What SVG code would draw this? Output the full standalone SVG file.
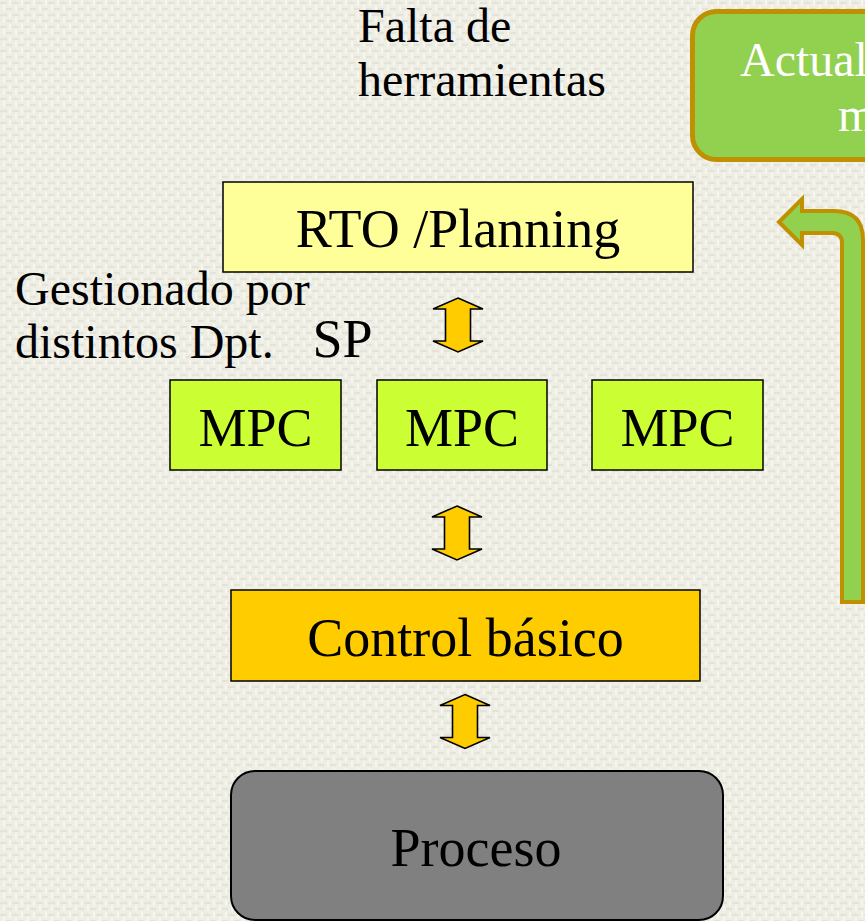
<svg xmlns="http://www.w3.org/2000/svg" width="865" height="921" viewBox="0 0 865 921">
  <style>
    text { font-family: "Liberation Serif", "Times New Roman", serif; fill: #000; }
    .lbl { font-size: 54px; text-anchor: middle; }
    .note { font-size: 48px; }
    .box { stroke: #000; stroke-width: 1.5; }
    .dbl { fill: #ffcc00; stroke: #000; stroke-width: 1.6; stroke-linejoin: miter; }
  </style>
  <defs>
    <!-- woven paper texture -->
    <pattern id="weave" width="12" height="12" patternUnits="userSpaceOnUse">
      <rect width="12" height="12" fill="#eeeee5"/>
      <rect x="0" y="2" width="7" height="2" fill="#e3e3d9"/>
      <rect x="6" y="8" width="6" height="2" fill="#e3e3d9"/>
      <rect x="3" y="5" width="2" height="6" fill="#f6f6ef"/>
      <rect x="9" y="0" width="2" height="6" fill="#f6f6ef"/>
    </pattern>
    <!-- double-headed vertical arrow centred on the origin -->
    <path id="updown" d="M0,-27 L25,-16 L12.5,-16 L12.5,16 L25,16 L0,27 L-25,16 L-12.5,16 L-12.5,-16 L-25,-16 Z"/>
  </defs>

  <rect width="865" height="921" fill="url(#weave)"/>

  <!-- annotations -->
  <g id="note-herramientas">
    <text class="note" x="358" y="42">Falta de</text>
    <text class="note" x="358" y="96">herramientas</text>
  </g>
  <g id="note-gestion">
    <text class="note" x="15" y="305">Gestionado por</text>
    <text class="note" x="15" y="358">distintos Dpt.</text>
  </g>
  <g id="note-sp">
    <text class="lbl" x="342.5" y="357">SP</text>
  </g>

  <!-- model update box (runs past the right edge) -->
  <g id="node-actualizacion">
    <rect x="692.5" y="11.5" width="260" height="148" rx="24" fill="#92d050" stroke="#bf9000" stroke-width="5"/>
    <text class="note" x="740" y="76" style="fill:#fff">Actualización de</text>
    <text class="note" x="838" y="131" style="fill:#fff">modelos</text>
  </g>

  <g id="node-rto">
    <rect class="box" x="223" y="182" width="470" height="90" fill="#ffff99"/>
    <text class="lbl" x="458" y="247">RTO /Planning</text>
  </g>

  <g id="node-mpc1">
    <rect class="box" x="170" y="380" width="171" height="90" fill="#ccff33"/>
    <text class="lbl" x="255.5" y="446">MPC</text>
  </g>
  <g id="node-mpc2">
    <rect class="box" x="377" y="380" width="170" height="90" fill="#ccff33"/>
    <text class="lbl" x="462" y="446">MPC</text>
  </g>
  <g id="node-mpc3">
    <rect class="box" x="592" y="380" width="171" height="90" fill="#ccff33"/>
    <text class="lbl" x="677.5" y="446">MPC</text>
  </g>

  <g id="node-control">
    <rect class="box" x="231" y="590" width="469" height="91" fill="#ffcc00"/>
    <text class="lbl" x="465.5" y="656">Control básico</text>
  </g>

  <g id="node-proceso">
    <rect x="231" y="771" width="492" height="149" rx="24" fill="#808080" stroke="#000" stroke-width="2"/>
    <text class="lbl" x="476" y="866">Proceso</text>
  </g>

  <!-- connectors -->
  <g id="connectors">
    <use href="#updown" class="dbl" x="458" y="325"/>
    <use href="#updown" class="dbl" x="457" y="533"/>
    <use href="#updown" class="dbl" x="465" y="721.5"/>
    <!-- feedback arrow from the plant side back up to the model update -->
    <path d="M779,222 L802,199 L802,211 L834,211 Q863,211 863,240 L863,602 L842,602 L842,243 Q842,233 832,233 L802,233 L802,245 Z"
          fill="#92d050" stroke="#bf9000" stroke-width="4" stroke-linejoin="miter"/>
  </g>
</svg>
